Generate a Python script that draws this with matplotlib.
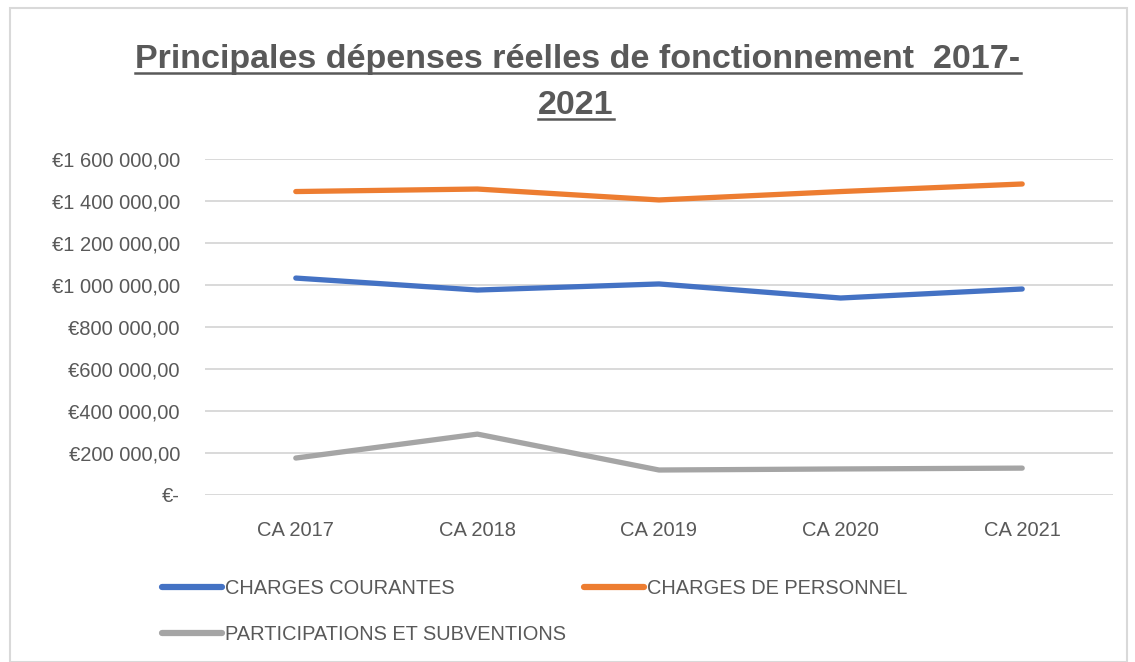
import matplotlib
matplotlib.use("Agg")
import matplotlib.pyplot as plt
from matplotlib import font_manager
from matplotlib.lines import Line2D
from matplotlib.patches import Rectangle
from matplotlib.ticker import FuncFormatter

categories = ["CA 2017", "CA 2018", "CA 2019", "CA 2020", "CA 2021"]
charges_courantes = [1033000, 976000, 1005000, 938000, 981000]
charges_personnel = [1445000, 1457000, 1405000, 1445000, 1481000]
participations = [176000, 290000, 119000, 124000, 128000]
series_names = ["CHARGES COURANTES", "CHARGES DE PERSONNEL", "PARTICIPATIONS ET SUBVENTIONS"]
title_lines = ["Principales dépenses réelles de fonctionnement  2017-", "2021"]
y_ticks = [0, 200000, 400000, 600000, 800000, 1000000, 1200000, 1400000, 1600000]

names = {f.name for f in font_manager.fontManager.ttflist}
font = "Liberation Sans Narrow" if "Liberation Sans Narrow" in names else "Liberation Sans"
plt.rcParams['font.family'] = [font, 'DejaVu Sans']

W, H = 1135, 662
fig = plt.figure(figsize=(W / 100, H / 100), dpi=100)
fig.patch.set_facecolor("white")

# outer chart border
fig.add_artist(Rectangle((10 / W, 0.0), (1127 - 10) / W, 1 - 8 / H - 0.0,
                         transform=fig.transFigure, fill=False,
                         edgecolor="#D9D9D9", lw=1.5))

ax = fig.add_axes([205 / W, 1 - 495 / H, (1113 - 205) / W, (495 - 159) / H])
text_col = "#595959"
colors = ["#4472C4", "#ED7D31", "#A5A5A5"]
x = list(range(len(categories)))
lines = []
for vals, c, n in zip([charges_courantes, charges_personnel, participations], colors, series_names):
    ln, = ax.plot(x, vals, color=c, lw=3.8, solid_capstyle="round", solid_joinstyle="round", label=n)
    lines.append(ln)

ax.set_xlim(-0.5, len(categories) - 0.5)
ax.set_ylim(0, 1600000)
ax.set_yticks(y_ticks)


def fmt(v, pos):
    if v == 0:
        return "€-"
    s = f"{int(v):,}".replace(",", " ")
    return "€" + s + ",00"


ax.yaxis.set_major_formatter(FuncFormatter(fmt))
ax.set_xticks(x)
ax.set_xticklabels(categories)
ax.grid(axis="y", color="#D9D9D9", lw=1.4)
ax.set_axisbelow(True)
for s in ax.spines.values():
    s.set_visible(False)
ax.tick_params(axis="both", length=0, colors=text_col, labelsize=14.5)
ax.tick_params(axis="y", pad=18)
ax.tick_params(axis="x", pad=19)

# row-major order for a 2-column legend (matplotlib fills columns first)
order = [0, 2, 1]
leg = fig.legend([lines[i] for i in order], [series_names[i] for i in order],
                 loc="upper left", ncol=2,
                 bbox_to_anchor=(144 / W, 1 - 561 / H), frameon=False,
                 fontsize=14.4, handlelength=3.0, handletextpad=0.15,
                 columnspacing=0.9, labelspacing=1.35, labelcolor=text_col)
for lh in leg.get_lines():
    lh.set_linewidth(4.5)
    lh.set_solid_capstyle("round")

# title with underline
t1 = fig.text(578 / W, 1 - 68 / H, title_lines[0], ha="center", va="baseline",
              fontsize=24.5, fontweight="bold", color=text_col)
t2 = fig.text(576 / W, 1 - 114 / H, title_lines[1], ha="center", va="baseline",
              fontsize=24.5, fontweight="bold", color=text_col)
fig.canvas.draw()
r = fig.canvas.get_renderer()
for t, base in [(t1, 68), (t2, 114)]:
    bb = t.get_window_extent(r)
    yline = 1 - (base + 5) / H
    fig.add_artist(Line2D([bb.x0 / W, bb.x1 / W], [yline, yline], transform=fig.transFigure,
                          color=text_col, lw=1.8))

fig.savefig("out.png", dpi=100)
